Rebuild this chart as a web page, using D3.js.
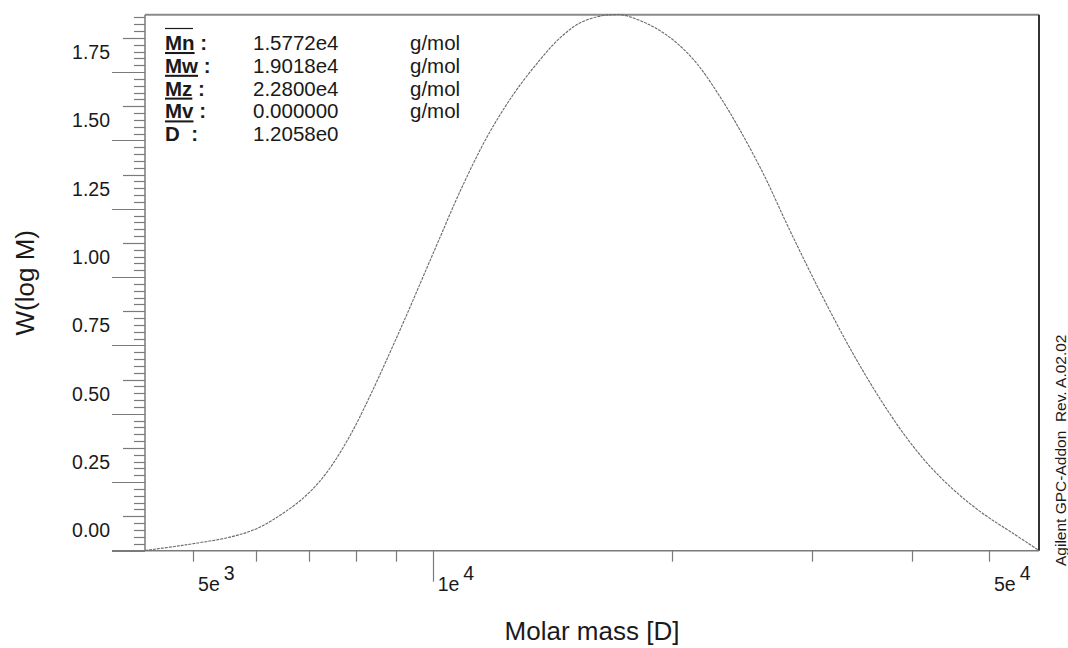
<!DOCTYPE html>
<html>
<head>
<meta charset="utf-8">
<script src="https://cdn.jsdelivr.net/npm/d3@7"></script>
<style>
  html, body { margin: 0; padding: 0; background: #fff; }
  svg { display: block; font-family: Arial, "Liberation Sans", sans-serif; }
</style>
</head>
<body>
<svg id="chart" width="1068" height="648"></svg>
<script>
// ---- data ----
const molarMass = [4351, 4722, 5003, 5565, 6010, 6493, 6945, 7360, 7873, 8341, 8840, 9276, 9732,
  10214, 10822, 11689, 12627, 13640, 14454, 15311, 16313, 16808, 17356, 18750, 20063, 21464,
  22961, 24326, 26019, 27842, 29499, 31104, 32961, 34920, 37000, 39590, 42360, 45740, 49410,
  53390, 57780];
const wLogM = [-0.125, -0.111, -0.100, -0.076, -0.045, 0.012, 0.078, 0.160, 0.295, 0.440, 0.600,
  0.737, 0.878, 1.020, 1.188, 1.385, 1.543, 1.670, 1.750, 1.805, 1.831, 1.835, 1.834, 1.797,
  1.742, 1.657, 1.535, 1.413, 1.254, 1.071, 0.920, 0.787, 0.648, 0.520, 0.402, 0.279, 0.176,
  0.082, 0.005, -0.059, -0.125];

const xTickValues = [5000, 6000, 7000, 8000, 9000, 10000, 20000, 30000, 40000, 50000];
const xMajorTicks = [10000];
const xTickLabelValues = [5000, 10000, 50000];
const xTickLabelBase = ["5e", "1e", "5e"];
const xTickLabelExp = ["3", "4", "4"];

const yLabelValues = [0, 0.25, 0.5, 0.75, 1.0, 1.25, 1.5, 1.75];
const yLabelText = ["0.00", "0.25", "0.50", "0.75", "1.00", "1.25", "1.50", "1.75"];

const statNames = ["Mn", "Mw", "Mz", "Mv", "D"];
const statValues = ["1.5772e4", "1.9018e4", "2.2800e4", "0.000000", "1.2058e0"];
const statUnits = ["g/mol", "g/mol", "g/mol", "g/mol", ""];

const xTitle = "Molar mass [D]";
const yTitle = "W(log M)";
const sideNote = "Agilent GPC-Addon  Rev. A.02.02";

// ---- layout ----
const svg = d3.select("#chart");
const L = 145, R = 1039, T = 14.7, B = 550.7;
const axisColor = "#7a7a7a";
const textColor = "#1a1a1a";

const x = d3.scaleLog().domain([4351, 57780]).range([L, R]);
const y = d3.scaleLinear().domain([-0.125, 1.835]).range([550.5, T]);

// frame: top and right
svg.append("line").attr("x1", L).attr("x2", R).attr("y1", T).attr("y2", T)
  .attr("stroke", "#8a8a8a").attr("stroke-width", 2);
svg.append("line").attr("x1", R).attr("x2", R).attr("y1", T).attr("y2", B)
  .attr("stroke", "#333").attr("stroke-width", 2);

// y axis line
svg.append("line").attr("x1", L).attr("x2", L).attr("y1", T).attr("y2", B)
  .attr("stroke", axisColor).attr("stroke-width", 1.5);

// y ticks: minor every 0.025, labelled every 0.25, long at 0.125 offsets
const yMinor = d3.range(-125, 1826, 25).map(v => v / 1000);
svg.append("g").selectAll("line").data(yMinor).join("line")
  .attr("x1", d => {
    const k = Math.round(d * 1000);
    if (((k - 125) % 250 + 250) % 250 === 0) return L - 33;
    if ((k % 250 + 250) % 250 === 0) return L - 22;
    return L - 11;
  })
  .attr("x2", L)
  .attr("y1", d => Math.round(y(d)) + 0.5).attr("y2", d => Math.round(y(d)) + 0.5)
  .attr("stroke", axisColor).attr("stroke-width", 1.2);

// y labels
svg.append("g").selectAll("text").data(yLabelValues).join("text")
  .attr("x", 110).attr("y", d => y(d) + 21)
  .attr("text-anchor", "end")
  .attr("font-size", 19.5).attr("fill", textColor)
  .text((d, i) => yLabelText[i]);

// x axis line (extends left like a long tick)
svg.append("line").attr("x1", L - 33).attr("x2", R).attr("y1", B).attr("y2", B)
  .attr("stroke", axisColor).attr("stroke-width", 1.5);

// x ticks
svg.append("g").selectAll("line").data(xTickValues).join("line")
  .attr("x1", d => Math.round(x(d)) + 0.5).attr("x2", d => Math.round(x(d)) + 0.5)
  .attr("y1", B).attr("y2", d => xMajorTicks.includes(d) ? B + 31 : B + 11)
  .attr("stroke", axisColor).attr("stroke-width", 1.2);

// x labels with superscript exponent
const xl = svg.append("g").selectAll("text").data(xTickLabelValues).join("text")
  .attr("x", d => x(d) + 5).attr("y", 591)
  .attr("font-size", 19.5).attr("fill", textColor);
xl.append("tspan").text((d, i) => xTickLabelBase[i]);
xl.append("tspan").attr("dx", 4).attr("dy", -11).text((d, i) => xTickLabelExp[i]);

// axis titles
svg.append("text").attr("x", (L + R) / 2).attr("y", 640)
  .attr("text-anchor", "middle").attr("font-size", 26).attr("fill", textColor)
  .text(xTitle);
svg.append("text").attr("transform", `translate(34, ${(T + B) / 2}) rotate(-90)`)
  .attr("text-anchor", "middle").attr("font-size", 26).attr("fill", textColor)
  .text(yTitle);

// side note
svg.append("text").attr("transform", "translate(1066, 566) rotate(-90)")
  .attr("text-anchor", "start").attr("font-size", 15.5).attr("fill", textColor)
  .attr("xml:space", "preserve").style("white-space", "pre")
  .text(sideNote);

// curve
const line = d3.line()
  .x((d, i) => x(molarMass[i]))
  .y(d => y(d))
  .curve(d3.curveCatmullRom.alpha(0.5));
svg.append("path").datum(wLogM)
  .attr("d", line)
  .attr("fill", "none").attr("stroke", "#6a6a6a").attr("stroke-width", 1.1)
  .attr("stroke-dasharray", "3,1");

// stats block
const rowY = i => 50 + i * 22.8;
const stats = svg.append("g");
statNames.forEach((name, i) => {
  const t = stats.append("text").attr("x", 165).attr("y", rowY(i))
    .attr("font-size", 20.5).attr("font-weight", "bold").attr("fill", textColor)
    .style("white-space", "pre").attr("xml:space", "preserve");
  if (name === "D") {
    t.append("tspan").text(name + "  :");
  } else {
    t.append("tspan").attr("text-decoration", "underline").style("text-decoration", "underline").text(name);
    t.append("tspan").text(" :");
  }
  stats.append("text").attr("x", 253).attr("y", rowY(i))
    .attr("font-size", 20.5).attr("fill", textColor).text(statValues[i]);
  if (statUnits[i]) {
    stats.append("text").attr("x", 410).attr("y", rowY(i))
      .attr("font-size", 20.5).attr("fill", textColor).text(statUnits[i]);
  }
});
// overbar above Mn
stats.append("line").attr("x1", 165).attr("x2", 193).attr("y1", 28.5).attr("y2", 28.5)
  .attr("stroke", textColor).attr("stroke-width", 1.2);
</script>
</body>
</html>
